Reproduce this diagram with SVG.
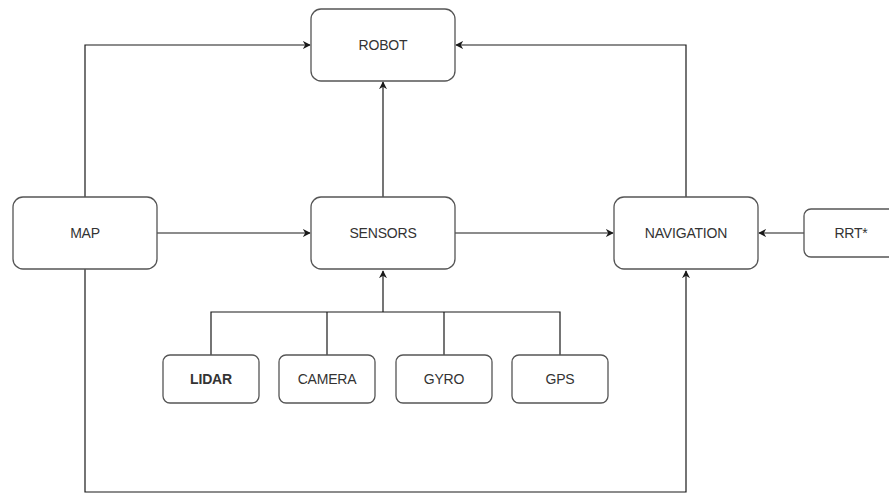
<svg xmlns="http://www.w3.org/2000/svg" width="889" height="493" viewBox="0 0 889 493">
  <style>
    .box { fill: #ffffff; stroke: #555555; stroke-width: 1.3; }
    .lbl { font-family: "Liberation Sans", Arial, sans-serif; font-size: 14px; fill: #333333; text-anchor: middle; dominant-baseline: central; letter-spacing: -0.2px; }
    .bold { font-weight: bold; }
    .edge { fill: none; stroke: #1a1a1a; stroke-width: 1.2; }
    .arr { marker-end: url(#head); }
  </style>
  <defs>
    <marker id="head" viewBox="0 0 10 10" refX="9" refY="5" markerWidth="8" markerHeight="8" markerUnits="userSpaceOnUse" orient="auto">
      <path d="M0,0 L10,5 L0,10 L3,5 Z" fill="#1a1a1a"/>
    </marker>
  </defs>
  <rect width="889" height="493" fill="#ffffff"/>

  <g id="connectors">
    <path class="edge arr" d="M85,197 V45 H310"/>
    <path class="edge arr" d="M686,197 V45 H456"/>
    <path class="edge arr" d="M383,197 V82"/>
    <path class="edge arr" d="M157,233 H310"/>
    <path class="edge arr" d="M455,233 H613"/>
    <path class="edge arr" d="M804,233 H759"/>
    <path class="edge arr" d="M85,269 V492 H686 V271"/>
    <path class="edge" d="M211,355 V312 H560 V355"/>
    <path class="edge" d="M327,355 V312"/>
    <path class="edge" d="M444,355 V312"/>
    <path class="edge arr" d="M383,312 V271"/>
  </g>

  <g id="robot">
    <rect class="box" x="311" y="9" width="144" height="72" rx="10"/>
    <text class="lbl" x="383" y="45">ROBOT</text>
  </g>
  <g id="map">
    <rect class="box" x="13" y="197" width="144" height="72" rx="10"/>
    <text class="lbl" x="85" y="233">MAP</text>
  </g>
  <g id="sensors">
    <rect class="box" x="311" y="197" width="144" height="72" rx="10"/>
    <text class="lbl" x="383" y="233">SENSORS</text>
  </g>
  <g id="navigation">
    <rect class="box" x="614" y="197" width="144" height="72" rx="10"/>
    <text class="lbl" x="686" y="233">NAVIGATION</text>
  </g>
  <g id="rrt">
    <rect class="box" x="804" y="209" width="100" height="48" rx="7"/>
    <text class="lbl" x="851" y="233">RRT*</text>
  </g>
  <g id="lidar">
    <rect class="box" x="163" y="355" width="96" height="48" rx="7"/>
    <text class="lbl bold" x="211" y="379">LIDAR</text>
  </g>
  <g id="camera">
    <rect class="box" x="279" y="355" width="96" height="48" rx="7"/>
    <text class="lbl" x="327" y="379">CAMERA</text>
  </g>
  <g id="gyro">
    <rect class="box" x="396" y="355" width="96" height="48" rx="7"/>
    <text class="lbl" x="444" y="379">GYRO</text>
  </g>
  <g id="gps">
    <rect class="box" x="512" y="355" width="96" height="48" rx="7"/>
    <text class="lbl" x="560" y="379">GPS</text>
  </g>
</svg>
